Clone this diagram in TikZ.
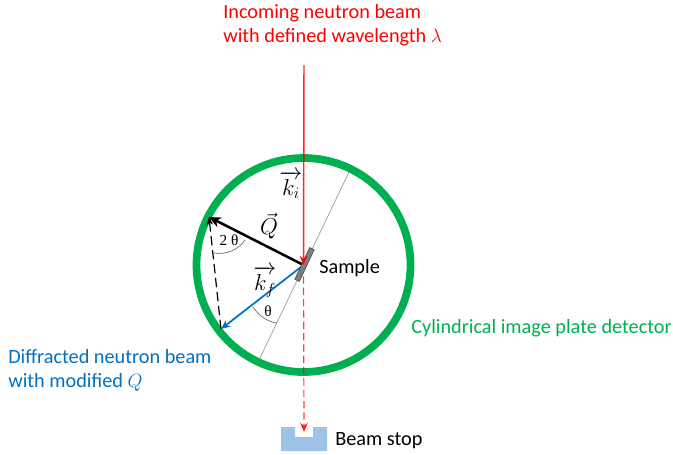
\documentclass[tikz,border=0pt]{standalone}
\usepackage{fontspec}
\usepackage{amsmath}
\setmainfont{Carlito}
\newfontfamily\angfont{Liberation Serif}
\usetikzlibrary{arrows.meta}
\definecolor{dgreen}{RGB}{0,176,80}
\definecolor{dblue}{RGB}{0,112,192}
\definecolor{stopblue}{RGB}{157,195,230}
\definecolor{sgrey}{RGB}{127,127,127}
\tikzset{
  lab/.style={inner sep=0pt,font=\fontsize{15.2pt}{18pt}\selectfont,align=left,anchor=west},
  sym/.style={inner sep=0pt,font=\fontsize{17pt}{20pt}\selectfont},
  ang/.style={inner sep=0pt,font=\angfont\fontsize{11.5pt}{13pt}\selectfont},
  tip/.style={-{Stealth[length=7pt,width=6pt]}}
}
\begin{document}
\begin{tikzpicture}[x=0.75pt,y=-0.75pt]
\useasboundingbox (0,0) rectangle (673,454);
\coordinate (O) at (303.5,265);
\coordinate (top) at (304,65);
\coordinate (stopin) at (304,432);
\coordinate (qend) at (209,217);
\coordinate (fend) at (221,329);
\coordinate (la) at (349,172);
\coordinate (lb) at (260,358);
% detector
\node[circle,draw=dgreen,line width=5.8pt,minimum size=160.5pt,inner sep=0pt] (det) at (O) {};
% sample axis
\draw[black!35,line width=0.6pt] (la) -- (lb);
% arcs
\draw[black!60,line width=0.5pt] (214,253) .. controls (226,255) and (238,250) .. (245,240);
\draw[black!60,line width=0.5pt] (253,307) .. controls (259,316) and (268,322) .. (277,323);
% dashed
\draw[black,line width=0.9pt,dash pattern=on 7pt off 3.5pt,-{Stealth[length=6pt,width=5pt]}] (fend) -- (qend);
% beams
\draw[red,line width=0.9pt,dash pattern=on 5.5pt off 3pt,opacity=.75,tip] (O) -- (stopin);
\draw[dblue,line width=1.3pt,tip] (O) -- (fend);
\draw[black,line width=1.9pt,-{Stealth[length=9pt,width=8pt]}] (O) -- (qend);
% sample
\draw[draw=black!70,fill=sgrey,line width=0.5pt,rotate around={-25:(304.5,264.5)}] (302,247) rectangle (307,282);
\draw[red,line width=1.1pt,opacity=.85,-{Stealth[length=7pt,width=6pt]}] (top) -- (O);
% beam stop
\fill[stopblue] (281,427) -- (295,427) -- (295,437) -- (313,437) -- (313,427) -- (327,427) -- (327,451) -- (281,451) -- cycle;
% labels
\node[lab,text=red] (inc) at (223,25) {Incoming neutron beam\\with defined wavelength $\lambda$};
\node[lab,text=dblue] (dif) at (8,370) {Diffracted neutron beam\\with modified $Q$};
\node[lab,text=dgreen] (cyl) at (411,328) {Cylindrical image plate detector};
\node[lab] (sam) at (319,268) {Sample};
\node[lab] (bs) at (335,441) {Beam stop};
\node[sym] (ki) at (291,185) {$\overrightarrow{k_i}$};
\node[sym] (kf) at (265,282) {$\overrightarrow{k_f}$};
\node[sym] (q) at (269,226) {$\vec{Q}$};
\node[ang] (tt) at (229,240) {2 θ};
\node[ang] (th) at (268,311) {θ};
\end{tikzpicture}
\end{document}
